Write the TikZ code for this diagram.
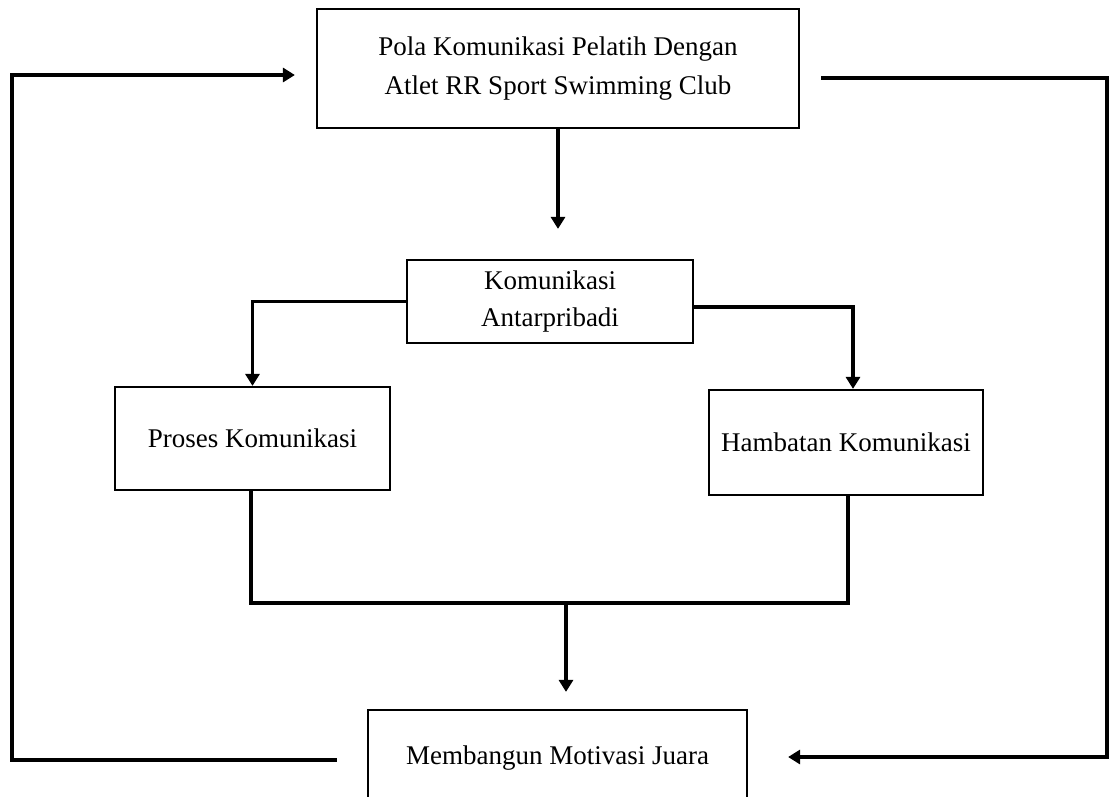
\documentclass[tikz,border=0pt]{standalone}
\usepackage{fontspec}
\setmainfont{Liberation Serif}
\usetikzlibrary{arrows.meta}
\tikzset{
  box/.style={draw, line width=2.2pt, inner sep=0pt, align=center,
    font=\fontsize{27}{33}\selectfont},
  conn/.style={line width=3.4pt},
  arr/.style={conn, -{Triangle[length=12pt,width=14pt]}}
}
\begin{document}
\begin{tikzpicture}[x=1pt,y=-1pt]
\useasboundingbox (0,0) rectangle (1109,796);
\fill[white] (0,0) rectangle (1109,796);
\node[box, minimum width=482, minimum height=119, font=\fontsize{27}{39}\selectfont] (top) at (558,68.5)
  {Pola Komunikasi Pelatih Dengan\\Atlet RR Sport Swimming Club};
\node[box, minimum width=286, minimum height=83, font=\fontsize{27}{37}\selectfont] (comm) at (550,301.5)
  {Komunikasi\\Antarpribadi};
\node[box, minimum width=275, minimum height=103] (proses) at (252.5,438.5) {Proses Komunikasi};
\node[box, minimum width=274, minimum height=105] (hamb) at (846,442.5) {Hambatan Komunikasi};
\node[box, minimum width=379, minimum height=96] (mot) at (557.5,758) {Membangun Motivasi Juara};
\coordinate (join) at (566,603);
\coordinate (lc) at (12,760);
\coordinate (rc) at (1107,78);
% top to comm
\draw[arr, shorten >=30pt] (top.south) -- (top.south |- comm.north);
% comm to branches
\draw[arr] (comm.west) -| (proses.north);
\draw[arr] ([yshift=-5.5pt]comm.east) -| ([xshift=7pt]hamb.north);
% branches join
\draw[conn] ([xshift=-1.5pt]proses.south) |- (join) -| ([xshift=2pt]hamb.south);
\draw[arr, shorten >=17pt] (join) -- (join |- mot.north);
% feedback left
\draw[arr, shorten <=30pt, shorten >=21pt] (mot.west |- lc) -- (lc) |- (top.west |- 0,75);
% feedback right
\draw[arr, shorten <=21pt, shorten >=40pt] (top.east |- rc) -- (rc) |- (mot.east |- 0,757);
\end{tikzpicture}
\end{document}
